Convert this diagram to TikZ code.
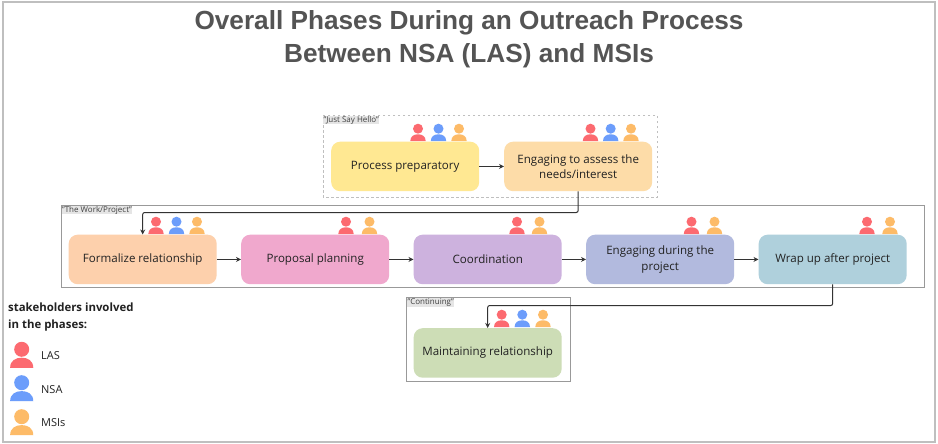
\documentclass[tikz,border=0pt]{standalone}
\usepackage{fontspec}
\setmainfont{Open Sans}
\newfontfamily\titlefont{Liberation Sans}
\usetikzlibrary{arrows.meta}
\definecolor{las}{HTML}{FC6A70}
\definecolor{nsa}{HTML}{6C9DFB}
\definecolor{msi}{HTML}{FDBB68}
\definecolor{ink}{HTML}{222222}
\tikzset{
  x=1pt,y=-1pt,
  phase/.style={rounded corners=9pt,minimum width=148pt,minimum height=49.5pt,inner sep=0pt,align=center,text=ink,font=\fontsize{11.55}{15.2}\selectfont,anchor=north west},
  flow/.style={draw=black!80,line width=1pt,-{Stealth[length=5pt,width=5pt]},rounded corners=2pt},
  frameline/.style={draw=black!40,line width=.9pt},
  tag/.style={fill=black!10,inner sep=.3pt,font=\fontsize{8}{8.5}\selectfont,text=black!75,anchor=north west},
  legendtext/.style={font=\fontsize{11}{13}\selectfont,text=ink,anchor=west,inner sep=0pt},
}
% \person{x}{head y}{colour}{scale}
\newcommand{\person}[4]{%
  \fill[#3] (#1,#2) circle[radius=5*#4];
  \fill[#3] ({#1-7.7*#4},{#2+12.3*#4}) .. controls ({#1-7.7*#4},{#2+7.5*#4}) and ({#1-4*#4},{#2+5.6*#4}) .. (#1,{#2+5.6*#4}) .. controls ({#1+4*#4},{#2+5.6*#4}) and ({#1+7.7*#4},{#2+7.5*#4}) .. ({#1+7.7*#4},{#2+12.3*#4}) -- cycle;}
\begin{document}
\begin{tikzpicture}
\useasboundingbox (0,0) rectangle (938,444);
\fill[white] (0,0) rectangle (938,444);
\draw[black!25,line width=2pt] (3,2.5) rectangle (935,441.5);
\node[font=\titlefont\bfseries\fontsize{26.2}{33}\selectfont,text=black!67,align=center] (title) at (469,39.5) {Overall Phases During an Outreach Process\\Between NSA (LAS) and MSIs};

\draw[draw=black!25,line width=.9pt,dash pattern=on 2.5pt off 2.5pt] (323,115) rectangle (657,197);
\draw[frameline] (61,205) rectangle (924,287);
\draw[frameline] (406.5,297.5) rectangle (570.5,381);
\node[tag] (t1) at (323,115.5) {"Just Say Hello"};
\node[tag] (t2) at (61.5,205.5) {"The Work/Project"};
\node[tag] (t3) at (407,298) {"Continuing"};

\foreach \x/\c in {418/las,438.5/nsa,459/msi,590.5/las,610.7/nsa,631/msi}{\person{\x}{128.7}{\c}{1}}
\foreach \x/\c in {156/las,176.5/nsa,197/msi,346/las,369.5/msi,517/las,539.5/msi,691.5/las,714.5/msi,867/las,890/msi}{\person{\x}{221.7}{\c}{1}}
\foreach \x/\c in {501.7/las,522.3/nsa,543/msi}{\person{\x}{314.7}{\c}{1}}
\person{21.7}{349.3}{las}{1.5}
\person{21.7}{382.7}{nsa}{1.5}
\person{21.7}{416.7}{msi}{1.5}

\node[phase,fill={rgb,255:red,255;green,232;blue,146}] (a) at (331,141.5) {Process preparatory};
\node[phase,fill={rgb,255:red,253;green,220;blue,168}] (b) at (504,141.5) {Engaging to assess the\\needs/interest};
\node[phase,fill={rgb,255:red,253;green,208;blue,172}] (c) at (68.5,234.5) {Formalize relationship};
\node[phase,fill={rgb,255:red,240;green,168;blue,205}] (d) at (241,234.5) {Proposal planning};
\node[phase,fill={rgb,255:red,205;green,178;blue,222}] (e) at (413.5,234.5) {Coordination};
\node[phase,fill={rgb,255:red,178;green,186;blue,222}] (f) at (586,234.5) {Engaging during the\\project};
\node[phase,fill={rgb,255:red,175;green,208;blue,220}] (g) at (758.5,234.5) {Wrap up after project};
\node[phase,fill={rgb,255:red,205;green,221;blue,182}] (h) at (413.5,328) {Maintaining relationship};

\draw[flow] (a) -- (b);
\draw[flow] (c) -- (d);
\draw[flow] (d) -- (e);
\draw[flow] (e) -- (f);
\draw[flow] (f) -- (g);
\draw[flow] (b.south) -- (b.south |- 0,212.5) -- (c.north |- 0,212.5) -- (c.north);
\draw[flow] (g.south) -- (g.south |- 0,305.5) -- (h.north |- 0,305.5) -- (h.north);

\node[font=\bfseries\fontsize{11.4}{16.5}\selectfont,text=ink,align=left,anchor=north west,inner sep=0pt] (lg) at (8,303) {stakeholders involved\\in the phases:};
\node[legendtext] (l1) at (41,356) {LAS};
\node[legendtext] (l2) at (41,390) {NSA};
\node[legendtext] (l3) at (41,423) {MSIs};
\end{tikzpicture}
\end{document}
